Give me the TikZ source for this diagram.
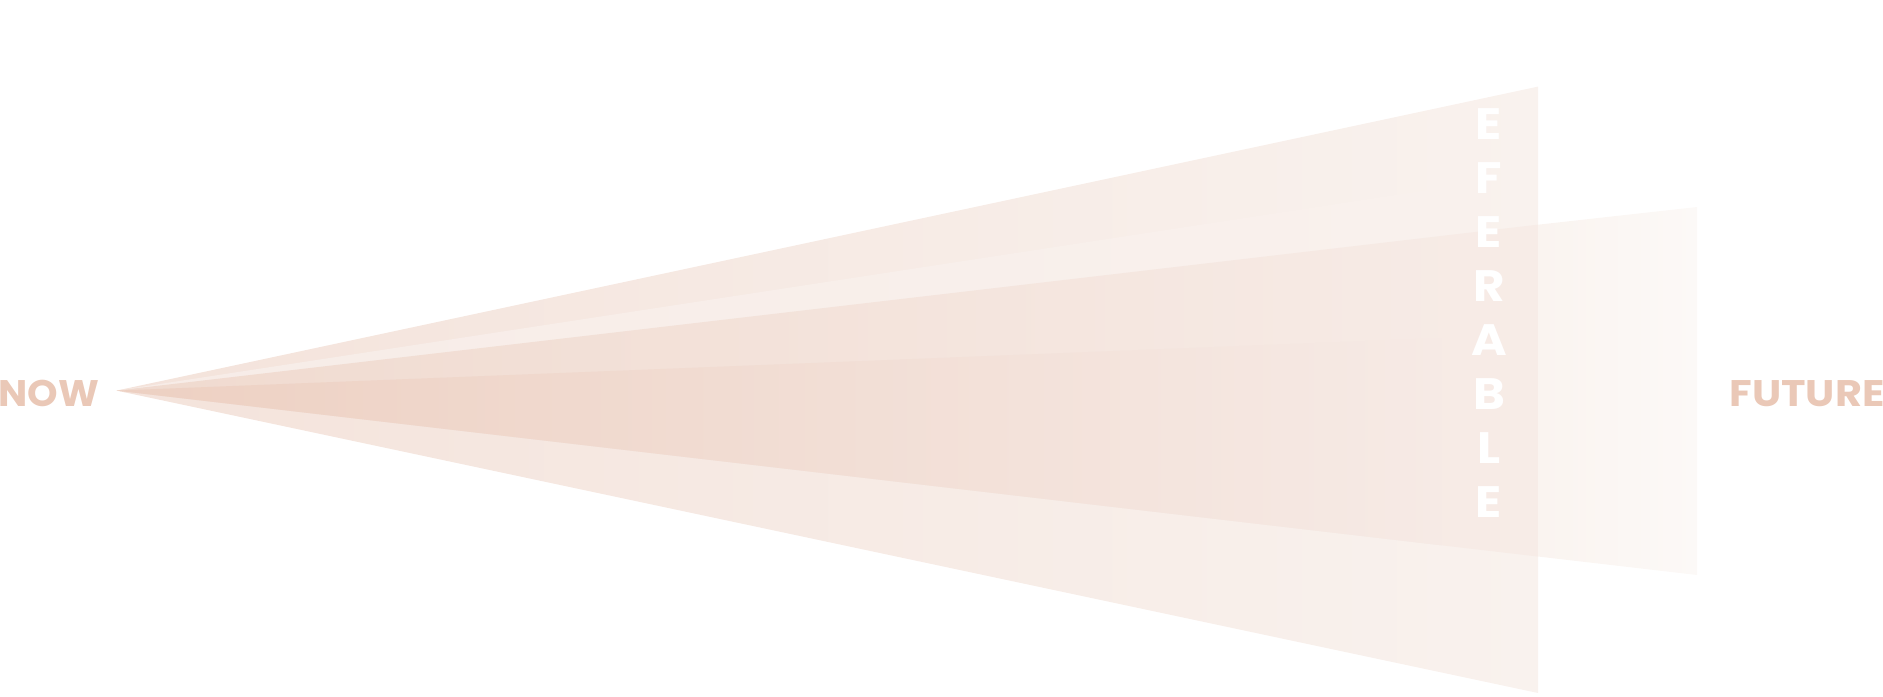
\documentclass[tikz,border=0pt]{standalone}
\usepackage{fontspec}
\setmainfont{Poppins}
\definecolor{labelc}{HTML}{EAC8B7}
\definecolor{tOneL}{HTML}{F4E3DB}
\definecolor{tOneM}{HTML}{F6E9E5}
\definecolor{tOneR}{HTML}{F9F2EE}
\definecolor{bandL}{HTML}{F7ECE7}
\definecolor{bandR}{HTML}{F9F1ED}
\definecolor{tTwoL}{HTML}{F0DACF}
\definecolor{tTwoM}{HTML}{F3E3DC}
\definecolor{tTwoR}{HTML}{F7ECE7}
\definecolor{tTwoXL}{HTML}{FAF4F0}
\definecolor{tTwoXR}{HTML}{FCF9F7}
\definecolor{tThreeL}{HTML}{EDD0C2}
\definecolor{tThreeM}{HTML}{F1DCD2}
\definecolor{tThreeR}{HTML}{F6EAE5}
\begin{document}
\begin{tikzpicture}[x=0.5pt,y=-0.5pt,
  lbl/.style={font=\fontsize{18.5}{18.5}\selectfont\bfseries, text=labelc, inner sep=0pt},
  vlet/.style={font=\fontsize{22}{22}\selectfont\bfseries, text=white, inner sep=0pt, anchor=base}]
\useasboundingbox (0,0) rectangle (1883,696);
\coordinate (apex) at (116.5,390.6);
% possible cone
\coordinate (p1t) at (1538,86.6);
\coordinate (p1b) at (1538,693);
\shade[left color=tOneL, middle color=tOneM, right color=tOneR] (apex) -- (p1t) -- (p1b) -- cycle;
% preferable band
\coordinate (bt) at (1440,188.1);
\coordinate (bb) at (1440,250);
\shade[left color=bandL, right color=bandR] (apex) -- (bt) -- (bb) -- cycle;
% plausible cone
\coordinate (p2t) at (1538.5,224.6);
\coordinate (p2b) at (1538.5,556.6);
\coordinate (p2tr) at (1697,207);
\coordinate (p2br) at (1697,575);
\shade[left color=tTwoL, middle color=tTwoM, right color=tTwoR] (apex) -- (p2t) -- (p2b) -- cycle;
\coordinate (p2tx) at (1538,224.7);
\coordinate (p2bx) at (1538,556.5);
\shade[left color=tTwoXL, right color=tTwoXR] (p2tx) -- (p2tr) -- (p2br) -- (p2bx) -- cycle;
% probable cone
\coordinate (p3t) at (1441,338);
\coordinate (p3b) at (1441,545.2);
\shade[left color=tThreeL, middle color=tThreeM, right color=tThreeR] (apex) -- (p3t) -- (p3b) -- cycle;
% labels
\node[lbl, anchor=base west] (now) at (-2,406) {\scalebox{1.05}[1]{NOW}};
\node[lbl, anchor=base east] (future) at (1885,406) {\scalebox{1.12}[1]{FUTURE}};
% vertical word
\foreach \ch [count=\i from 0] in {P,R,E,F,E,R,A,B,L,E} {
  \node[vlet] (v\i) at (1489,{31.8+54.02*\i}) {\scalebox{1.1}[1]{\ch}};
}
\end{tikzpicture}
\end{document}
